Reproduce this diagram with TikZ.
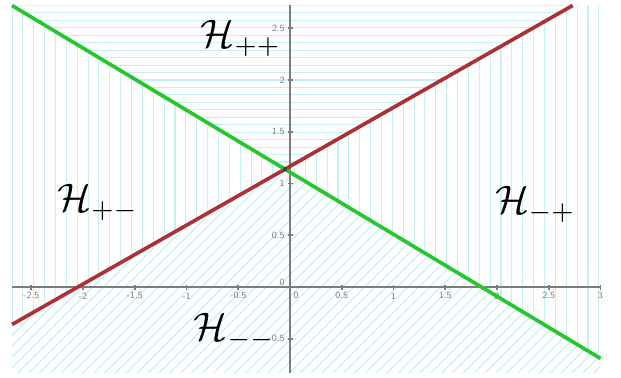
\documentclass[tikz,border=0pt]{standalone}
\usepackage{amsmath,amssymb}
\usepackage{tikz}
\usetikzlibrary{calc}
\definecolor{hpred}{RGB}{172,48,52}
\definecolor{hpgreen}{RGB}{38,198,46}
\definecolor{hphatch}{RGB}{196,241,244}
\definecolor{hpaxis}{RGB}{125,125,125}

\begin{document}
\begin{tikzpicture}[x=1cm,y=1cm,
    hatch/.style={hphatch,line width=.3pt},
    axisline/.style={hpaxis,line width=.45pt},
    ticklab/.style={font=\fontsize{2.6}{3}\sffamily,text=hpaxis,inner sep=0pt},
    region/.style={font=\fontsize{10.5}{12}\selectfont,inner sep=0pt},
    bdline/.style={line width=1pt}]
  \useasboundingbox (-2.802,-0.870) rectangle (3.198,2.773);
  % window corners and line ends
  \coordinate (tl) at (-2.686,2.72);
  \coordinate (tr) at (3,2.72);
  \coordinate (br) at (3,-0.83);
  \coordinate (bl) at (-2.686,-0.83);
  \coordinate (p) at (-0.048,1.139);
  \coordinate (rl) at (-2.686,-0.362);
  \coordinate (rt) at (2.731,2.72);
  \coordinate (gr) at (3,-0.69);
  % H++ : horizontal hatching
  \begin{scope}
    \clip (tl) -- (p) -- (rt) -- cycle;
    \foreach \i in {0,...,50}
      \draw[hatch] (-2.7,2.72-\i*0.072) -- ++(5.8,0);
  \end{scope}
  % H+- and H-+ : vertical hatching
  \begin{scope}
    \clip (tl) -- (p) -- (rl) -- cycle (rt) -- (tr) -- (gr) -- (p) -- cycle;
    \foreach \i in {0,...,55}
      \draw[hatch] (-2.686+\i*0.105,-0.9) -- ++(0,3.7);
  \end{scope}
  % H-- : slanted hatching
  \begin{scope}
    \clip (rl) -- (p) -- (gr) -- (br) -- (bl) -- cycle;
    \foreach \i in {0,...,76}
      \draw[hatch] (-4.8+\i*0.105,-0.9) -- ++(3.8,3.8);
  \end{scope}
  % axes
  \coordinate (xa) at (-2.686,0);
  \coordinate (xb) at (3,0);
  \coordinate (ya) at (0,-0.83);
  \coordinate (yb) at (0,2.72);
  \draw[axisline] (xa) -- (xb);
  \draw[axisline] (ya) -- (yb);
  \foreach \x in {-2.5,-2,-1.5,-1,-0.5,0.5,1,1.5,2,2.5,3} {
    \draw[axisline] (\x,0.02) -- (\x,-0.025);
    \node[ticklab] at (\x,-0.085) {\x};
  }
  \foreach \y in {-0.5,0.5,1,1.5,2,2.5} {
    \draw[axisline] (-0.02,\y) -- (0.025,\y);
    \node[ticklab,anchor=east] at (-0.045,\y) {\y};
  }
  \node[ticklab] at (0.06,-0.085) {0};
  \node[ticklab,anchor=east] at (-0.045,0.045) {0};
  % the two lines
  \draw[bdline,hpred] (rl) -- (rt);
  \draw[bdline,hpgreen] (tl) -- (gr);
  \fill[black!75] (p) circle (0.022);
  % regions
  \node[region] (hpp) at (-0.473,2.40) {$\mathcal{H}_{++}$};
  \node[region] (hpm) at (-1.855,0.82) {$\mathcal{H}_{+-}$};
  \node[region] (hmp) at (2.37,0.80) {$\mathcal{H}_{-+}$};
  \node[region] (hmm) at (-0.54,-0.43) {$\mathcal{H}_{--}$};
\end{tikzpicture}
\end{document}
